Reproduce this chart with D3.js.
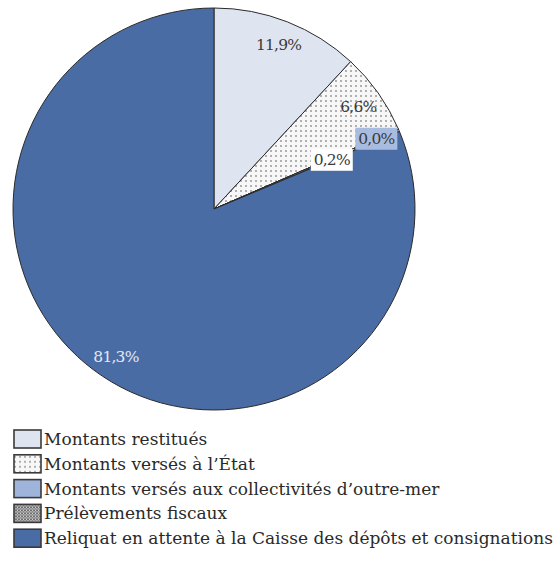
<!DOCTYPE html>
<html>
<head>
<meta charset="utf-8">
<script src="https://cdn.jsdelivr.net/npm/d3@7"></script>
<style>
  body { margin: 0; background: #fff; }
  svg { display: block; }
  text { font-family: "DejaVu Serif", "Liberation Serif", serif; }
</style>
</head>
<body>
<div id="chart"></div>
<script>
// data
const categories = [
  "Montants restitués",
  "Montants versés à l’État",
  "Montants versés aux collectivités d’outre-mer",
  "Prélèvements fiscaux",
  "Reliquat en attente à la Caisse des dépôts et consignations"
];
const values = [11.9, 6.6, 0.0, 0.2, 81.3];
const valueLabels = ["11,9%", "6,6%", "0,0%", "0,2%", "81,3%"];

const width = 556, height = 576;
const cx = 214, cy = 209, radius = 201;

const fills = ["#dfe5f0", "url(#dots)", "#9fb4da", "url(#hatch)", "#4a6ca5"];

const svg = d3.select('#chart').append('svg')
  .attr('width', width)
  .attr('height', height);

// patterns
const defs = svg.append('defs');
const dots = defs.append('pattern')
  .attr('id', 'dots').attr('patternUnits', 'userSpaceOnUse')
  .attr('width', 5).attr('height', 5);
dots.append('rect').attr('width', 5).attr('height', 5).attr('fill', '#f7f7f7');
dots.append('circle').attr('cx', 2).attr('cy', 2).attr('r', 1).attr('fill', '#999');

const hatch = defs.append('pattern')
  .attr('id', 'hatch').attr('patternUnits', 'userSpaceOnUse')
  .attr('width', 3).attr('height', 3);
hatch.append('rect').attr('width', 3).attr('height', 3).attr('fill', '#cfcfcf');
hatch.append('path').attr('d', 'M0,0L3,3M3,0L0,3').attr('stroke', '#555').attr('stroke-width', 0.8);

const data = categories.map((c, i) => ({ name: c, value: values[i], label: valueLabels[i], fill: fills[i] }));

const pie = d3.pie().sort(null).value(d => d.value);
const arc = d3.arc().innerRadius(0).outerRadius(radius);
const labelArc = d3.arc().innerRadius(radius * 0.88).outerRadius(radius * 0.88);

const g = svg.append('g').attr('transform', `translate(${cx},${cy})`);

g.selectAll('path.slice')
  .data(pie(data))
  .enter()
  .append('path')
  .attr('class', 'slice')
  .attr('d', arc)
  .attr('fill', d => d.data.fill)
  .attr('stroke', '#2a2a2a')
  .attr('stroke-width', 1);

// label nudges to avoid overlap of the tiny slices
const nudge = { "Prélèvements fiscaux": [-45, 20] };
const boxBg = {
  "Montants versés aux collectivités d’outre-mer": "#a8bcdf",
  "Prélèvements fiscaux": "#ffffff"
};

const labels = g.selectAll('g.lbl')
  .data(pie(data))
  .enter()
  .append('g')
  .attr('class', 'lbl')
  .attr('transform', d => {
    const [x, y] = labelArc.centroid(d);
    const n = nudge[d.data.name] || [0, 0];
    return `translate(${x + n[0]},${y + n[1]})`;
  });

labels.filter(d => boxBg[d.data.name])
  .append('rect')
  .attr('x', -21).attr('y', -11)
  .attr('width', 42).attr('height', 22)
  .attr('fill', d => boxBg[d.data.name]);

labels.append('text')
  .attr('text-anchor', 'middle')
  .attr('dy', '0.35em')
  .attr('font-size', 15.5)
  .attr('letter-spacing', -0.8)
  .attr('fill', d => d.data.name.startsWith('Reliquat') ? '#e2e9f5' : '#3a3a3a')
  .text(d => d.data.label);

// legend
const legend = svg.append('g').attr('transform', 'translate(13,430)');
const row = legend.selectAll('g')
  .data(data)
  .enter()
  .append('g')
  .attr('transform', (d, i) => `translate(0,${i * 24.8})`);

row.append('rect')
  .attr('x', 1).attr('y', 0)
  .attr('width', 27).attr('height', 18)
  .attr('fill', d => d.fill)
  .attr('stroke', '#3a3a3a')
  .attr('stroke-width', 1.6);

const legText = row.append('text')
  .attr('x', 31)
  .attr('y', 9)
  .attr('dy', '0.35em')
  .attr('font-size', 16)
  .attr('fill', '#2a2a2a')
  .text(d => d.name);

// fit the longest entry to the width it has in the reference
const longest = d3.max(legText.nodes(), n => n.getComputedTextLength());
const fs = Math.min(18, 16 * 509 / longest);
legText.attr('font-size', fs);
</script>
</body>
</html>
